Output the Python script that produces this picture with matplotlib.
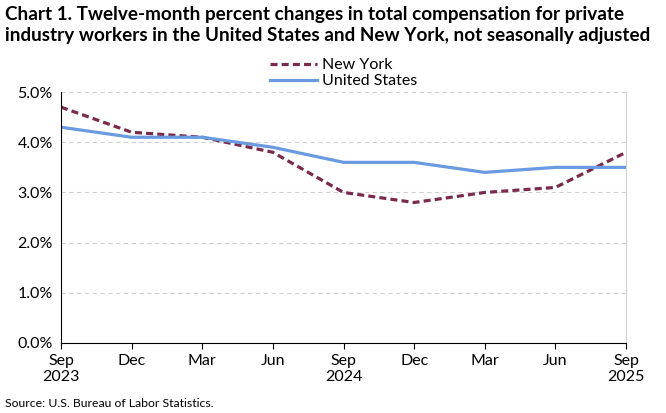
import matplotlib
matplotlib.use('Agg')
import matplotlib.pyplot as plt

months = ['Sep\n2023', 'Dec', 'Mar', 'Jun', 'Sep\n2024', 'Dec', 'Mar', 'Jun', 'Sep\n2025']
new_york = [4.7, 4.2, 4.1, 3.8, 3.0, 2.8, 3.0, 3.1, 3.8]
united_states = [4.3, 4.1, 4.1, 3.9, 3.6, 3.6, 3.4, 3.5, 3.5]
yticks = [0, 1, 2, 3, 4, 5]

plt.rcParams['font.family'] = ['Lato', 'DejaVu Sans']

fig = plt.figure(figsize=(6.66, 4.13), dpi=100)
ax = fig.add_axes([0.0916, 0.1695, 0.8484, 0.6075])

x = list(range(len(months)))
ax.plot(x, new_york, color='#7a2a4c', lw=2.3, ls=(0, (2.2, 1.3)), label='New York')
ax.plot(x, united_states, color='#6a9ae0', lw=2.3, label='United States')

ax.set_xlim(0, len(months) - 1)
ax.set_ylim(0, 5)
ax.set_yticks(yticks)
ax.set_yticklabels(['%.1f%%' % v for v in yticks])
ax.set_xticks(x)
ax.set_xticklabels(months)
ax.tick_params(axis='y', length=0, labelsize=11.5, pad=6)
ax.tick_params(axis='x', length=4, direction='out', labelsize=11.5, pad=4)
ax.grid(axis='y', color='#d0d0d0', ls=(0, (4, 3)), lw=0.8)
ax.spines['top'].set_visible(False)
ax.spines['right'].set_color('#d0d0d0')
ax.spines['left'].set_color('black')
ax.spines['bottom'].set_color('black')

fig.text(0.008, 0.985, 'Chart 1. Twelve-month percent changes in total compensation for private\n'
         'industry workers in the United States and New York, not seasonally adjusted',
         fontsize=13.6, fontweight='bold', va='top', ha='left', linespacing=1.3)
ax.legend(loc='lower center', bbox_to_anchor=(0.5, 0.99), frameon=False, fontsize=11.5,
          handlelength=3.0, borderaxespad=0, labelspacing=0.1, handletextpad=0.3)
fig.text(0.008, 0.01, 'Source: U.S. Bureau of Labor Statistics.', fontsize=8.8, ha='left', va='bottom')

fig.savefig('out.png', dpi=100)
